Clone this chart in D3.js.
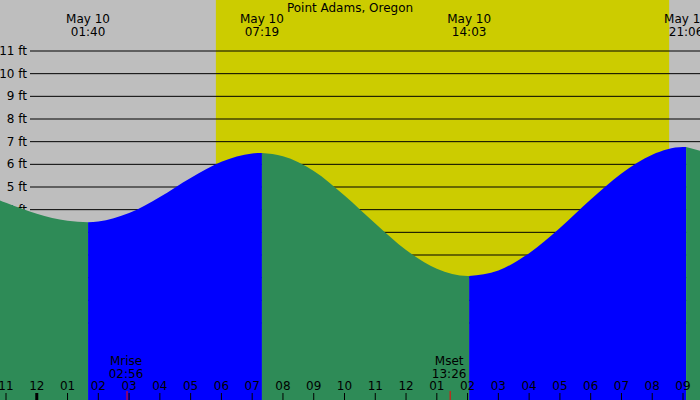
<!DOCTYPE html>
<html><head><meta charset="utf-8">
<script src="https://cdn.jsdelivr.net/npm/d3@7"></script>
<style>body{margin:0}svg{display:block;font-family:"DejaVu Sans",sans-serif}</style>
</head><body><svg id="chart" width="700" height="400"></svg>
<script>
// hours after midnight May 10 (negative = previous evening)
const tideHours = [-2, -1, 0, 1, 1.667, 2, 3, 4, 5, 6, 7, 7.317, 8, 9, 10, 11, 12, 13, 14, 14.05, 15, 16, 17, 18, 19, 20, 21, 21.1, 22];
const tideFeet  = [4.84, 4.30, 3.82, 3.51, 3.45, 3.48, 3.85, 4.56, 5.40, 6.11, 6.48, 6.5, 6.36, 5.71, 4.63, 3.39, 2.22, 1.39, 1.07, 1.07, 1.32, 2.08, 3.19, 4.45, 5.60, 6.42, 6.76, 6.76, 6.44];
const extremeHours = [-2, 1.667, 7.317, 14.05, 21.1, 22];
const extremeLabels = [null, ["May 10", "01:40"], ["May 10", "07:19"], ["May 10", "14:03"], ["May 10", "21:06"], null];
const sunrise = 5.82, sunset = 20.55;
const moonEvents = [{name: "Mrise", label: "02:56", t: 2.933}, {name: "Mset", label: "13:26", t: 13.433}];
const hourTicks = d3.range(-1, 22);
const feetTicks = d3.range(-1, 12);

const svg = d3.select("#chart");
const width = 700, height = 400;
const x = d3.scaleLinear().domain([-1, 21]).range([6, 683]);
const y = d3.scaleLinear().domain([-1, 11]).range([323, 51]);

// night / day background
svg.append("rect").attr("width", width).attr("height", height).attr("fill", "#bebebe");
svg.append("rect").attr("x", x(sunrise)).attr("width", x(sunset) - x(sunrise))
  .attr("height", height).attr("fill", "#cccc00");

// grid
svg.selectAll(".grid").data(feetTicks).enter().append("line")
  .attr("x1", 30).attr("x2", width).attr("y1", d => y(d)).attr("y2", d => y(d))
  .attr("stroke", "#000");
svg.selectAll(".ylab").data(feetTicks).enter().append("text")
  .attr("x", 27).attr("y", d => y(d) + 4).attr("text-anchor", "end")
  .attr("font-size", 12).text(d => d + " ft");

// tide fill: green when falling, blue when rising
const pts = tideHours.map((t, i) => ({t, h: tideFeet[i]}));
const area = d3.area().x(d => x(d.t)).y0(height).y1(d => y(d.h)).curve(d3.curveMonotoneX);
for (let i = 0; i < extremeHours.length - 1; i++) {
  const a = extremeHours[i], b = extremeHours[i + 1];
  const seg = pts.filter(p => p.t >= a && p.t <= b);
  const rising = seg[seg.length - 1].h > seg[0].h;
  svg.append("path").datum(seg).attr("d", area)
    .attr("fill", rising ? "#0000ff" : "#2e8b57");
}

// title and extreme labels
svg.append("text").attr("x", 350).attr("y", 12).attr("text-anchor", "middle")
  .attr("font-size", 12).text("Point Adams, Oregon");
extremeHours.forEach((t, i) => {
  const l = extremeLabels[i];
  if (!l) return;
  const tx = svg.append("text").attr("text-anchor", "middle").attr("font-size", 12);
  tx.append("tspan").attr("x", x(t)).attr("y", 23).text(l[0]);
  tx.append("tspan").attr("x", x(t)).attr("y", 36).text(l[1]);
});

// hour axis
svg.selectAll(".hlab").data(hourTicks).enter().append("text")
  .attr("x", d => x(d)).attr("y", 390).attr("text-anchor", "middle").attr("font-size", 12)
  .text(d => d3.format("02")(((d + 11) % 12) + 1));
svg.selectAll(".htick").data(hourTicks).enter().append("line")
  .attr("x1", d => x(d)).attr("x2", d => x(d)).attr("y1", 393).attr("y2", 400)
  .attr("stroke", "#000").attr("stroke-width", d => d === 0 ? 3 : 1);

// moon events
moonEvents.forEach(m => {
  svg.append("line").attr("x1", x(m.t)).attr("x2", x(m.t)).attr("y1", 391).attr("y2", 400)
    .attr("stroke", "#ff0000");
  const tx = svg.append("text").attr("text-anchor", "middle").attr("font-size", 12);
  tx.append("tspan").attr("x", x(m.t) - 1).attr("y", 365).text(m.name);
  tx.append("tspan").attr("x", x(m.t) - 1).attr("y", 378).text(m.label);
});
</script></body></html>
